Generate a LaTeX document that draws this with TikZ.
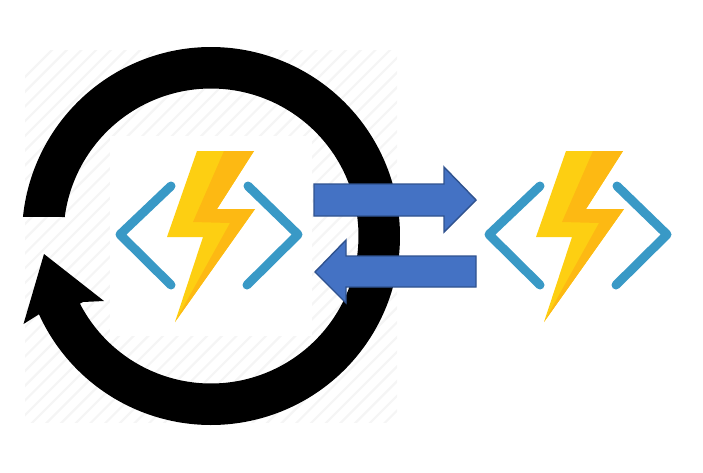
\documentclass[tikz,border=0pt]{standalone}
\definecolor{boltlight}{HTML}{FDCF12}
\definecolor{boltdark}{HTML}{FDB913}
\definecolor{bracketblue}{HTML}{3999C6}
\definecolor{arrowfill}{HTML}{4472C4}
\definecolor{arrowline}{HTML}{2F528F}
\definecolor{hatchgrey}{HTML}{F5F5F5}
\tikzset{
  hatchline/.style={draw=hatchgrey,line width=2.2pt},
  bracket/.style={draw=bracketblue,line width=9pt,line cap=round,line join=round},
  bigarrow/.style={fill=arrowfill,draw=arrowline,line width=1.4pt,line join=miter},
  ring/.style={fill=black,draw=none}
}
\begin{document}
\begin{tikzpicture}[x=1pt,y=-1pt]
\useasboundingbox (0,0) rectangle (703,472);
% hatched backdrop
\begin{scope}
  \clip (25,50) rectangle (397,422);
  \foreach \k in {0,...,55} {
    \draw[hatchline] ({102+14.7*\k-430},430) -- ({102+14.7*\k+10},-10);
  }
\end{scope}
\fill[white] (110,136) rectangle (312,336);
% circular arrow
\fill[ring] plot[smooth,domain=204.4:534.2,samples=220] ({211+189*cos(\x)},{236-189*sin(\x)})
  -- (65,217)
  -- plot[smooth,domain=532.6:207.3,samples=220] ({211+147.5*cos(\x)},{236-147.5*sin(\x)})
  -- (83,302) -- (104,301) -- (44,254) -- (23.5,324) -- (41,313) -- cycle;
% function icons
\foreach \dx in {0,369} {
  \begin{scope}[shift={(\dx,0)}]
    \fill[boltlight] (197,151) -- (254,151) -- (217,209) -- (255,209) -- (175,322) -- (203,237) -- (167,237) -- cycle;
    \fill[boltdark] (224,151) -- (254,151) -- (217,209) -- (255,209) -- (175,322) -- (230,223) -- (193,222) -- cycle;
    \draw[bracket] (171,186) -- (120,234.5) -- (171,285);
    \draw[bracket] (248,186) -- (298,234.5) -- (247,285);
  \end{scope}
}
% exchange arrows
\draw[bigarrow] (314,184) -- (444,184) -- (444,167) -- (476,200) -- (444,232) -- (444,216) -- (314,216) -- cycle;
\draw[bigarrow] (476,256) -- (346,256) -- (346,240) -- (315,272) -- (346,303) -- (346,287) -- (476,287) -- cycle;
\end{tikzpicture}
\end{document}
